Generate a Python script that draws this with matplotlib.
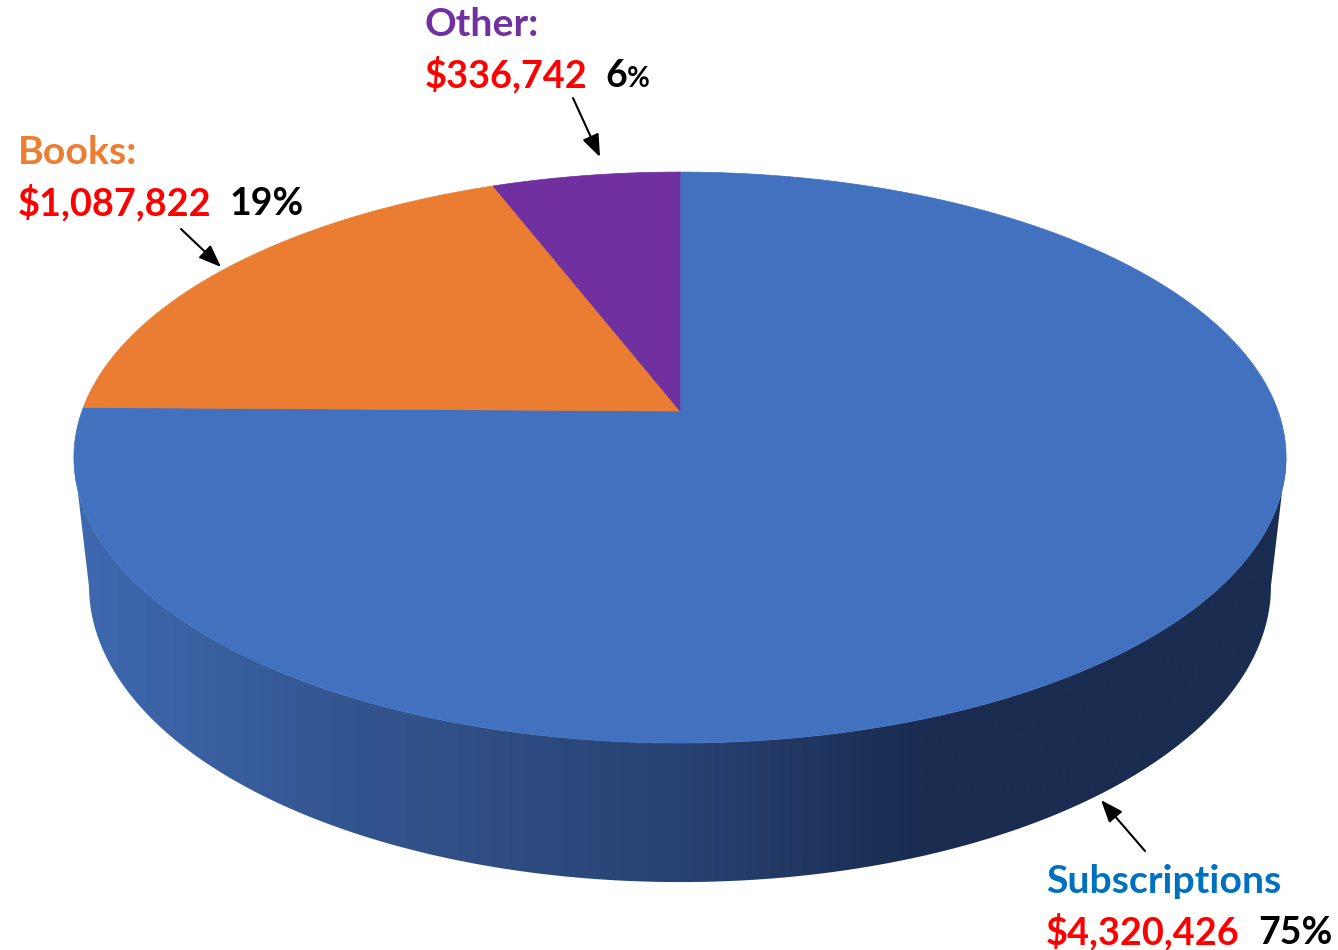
import numpy as np
import matplotlib
matplotlib.use('Agg')
import matplotlib.pyplot as plt
from matplotlib.patches import Polygon
from matplotlib.colors import LinearSegmentedColormap

categories = ['Subscriptions', 'Books', 'Other']
values = [4320426, 1087822, 336742]
percents = ['75', '19', '6']
colors = ['#4271BF', '#EA7D31', '#7030A0']

plt.rcParams['font.family'] = ['Lato', 'DejaVu Sans']

# pie geometry in pixels, perspective squeezes the back half of the disc
CX, CY = 680, 411
A, B, K = 598.0, 277.9, 0.163
RIM_CY = 457.5
BOT_CY = 586
BOT_SCALE_X = 0.975
BOT_SCALE_Y = 1.037


def project(theta, r=1.0):
    # theta is clockwise from 12 o'clock
    x = r * np.sin(theta)
    y = r * np.cos(theta)
    d = 1 + K * y
    return CX + A * x / d, CY - B * y / d


fig, ax = plt.subplots(figsize=(13.38, 9.5), dpi=100)
ax.set_position([0, 0, 1, 1])
ax.axis('off')

# side wall, lower half of the top rim joined to the lower half of the bottom rim
t = np.linspace(0, 2 * np.pi, 1440)
rim_x, rim_y = project(t)
bot_x = CX + (rim_x - CX) * BOT_SCALE_X
bot_y = BOT_CY + (rim_y - RIM_CY) * BOT_SCALE_Y
right = np.argmax(rim_x)
left = np.argmin(rim_x)
side = np.vstack([
    np.column_stack([rim_x[right:left], rim_y[right:left]]),
    np.column_stack([bot_x[right:left][::-1], bot_y[right:left][::-1]]),
])
clip = Polygon(side, closed=True, transform=ax.transData, fc='none', ec='none')
ax.add_patch(clip)
cmap = LinearSegmentedColormap.from_list(
    'wall', [(0, '#3F69B0'), (0.23, '#33558F'), (0.5, '#284273'), (0.7, '#1A2C50'), (1, '#1A2C50')])
grad = ax.imshow(np.linspace(0, 1, 512).reshape(1, -1), extent=[75, 1287, 950, 0],
                 cmap=cmap, aspect='auto', zorder=1)
grad.set_clip_path(clip)
ax.set_xlim(0, 1338)
ax.set_ylim(950, 0)

# top face, wedges clockwise from 12 o'clock
total = sum(values)
start = 0.0
for val, col in zip(values, colors):
    sweep = val / total * 2 * np.pi
    tt = np.linspace(start, start + sweep, 300)
    px, py = project(tt)
    pts = np.column_stack([np.r_[CX, px], np.r_[CY, py]])
    ax.add_patch(Polygon(pts, closed=True, fc=col, ec=col, lw=0.5, zorder=2))
    start += sweep


def label(x, y, name, name_col, amount, pct, pct_x, small_pct=False):
    ax.text(x, y + 1, name, color=name_col, fontsize=28.3, fontweight='bold', va='baseline')
    ax.text(x, y + 52, amount, color='#FF0000', fontsize=27.3, fontweight='bold', va='baseline')
    if small_pct:
        ax.text(pct_x, y + 52, pct, color='black', fontsize=27, fontweight='bold', va='baseline')
        ax.text(pct_x + 22, y + 52, '%', color='black', fontsize=20, fontweight='bold', va='baseline')
    else:
        ax.text(pct_x, y + 52, pct + '%', color='black', fontsize=27, fontweight='bold', va='baseline')


label(425, 35, 'Other:', '#7030A0', '$336,742', percents[2], 605, small_pct=True)
label(18, 163, 'Books:', '#ED7D31', '$1,087,822', percents[1], 230)
label(1046, 892, 'Subscriptions', '#0070C0', '$4,320,426', percents[0], 1258)

arrows = [((573, 98), (600, 157)), ((181, 229), (221, 267)), ((1145, 851), (1101, 800))]
for a, b in arrows:
    ax.annotate('', xy=b, xytext=a, zorder=5,
                arrowprops=dict(arrowstyle='-|>,head_length=0.62,head_width=0.24', color='black',
                                lw=1.5, mutation_scale=22, shrinkA=0, shrinkB=0))

fig.savefig('out.png', dpi=100, facecolor='white')
